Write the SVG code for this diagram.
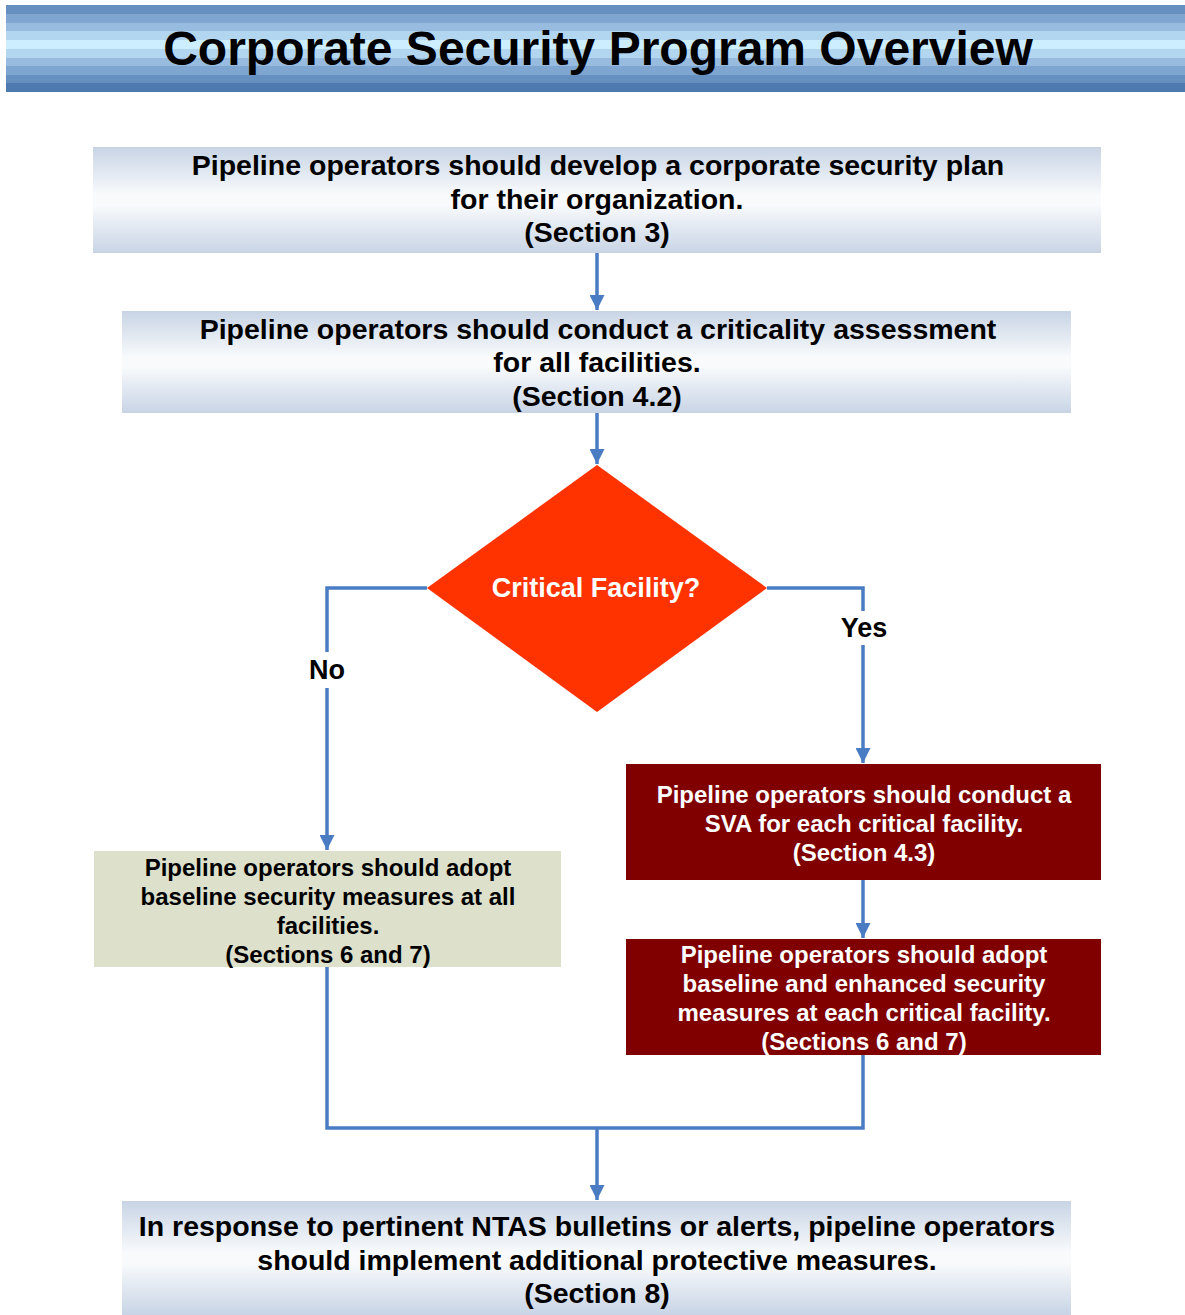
<svg xmlns="http://www.w3.org/2000/svg" width="1185" height="1315" viewBox="0 0 1185 1315">
<defs>
<linearGradient id="boxGrad" x1="0" y1="0" x2="0" y2="1">
<stop offset="0" stop-color="#C8D4E5"/>
<stop offset="0.45" stop-color="#F8FAFC"/>
<stop offset="0.55" stop-color="#F8FAFC"/>
<stop offset="1" stop-color="#C8D4E5"/>
</linearGradient>
<marker id="arr" viewBox="0 0 15 15" refX="15" refY="7.5" markerWidth="15" markerHeight="15" markerUnits="userSpaceOnUse" orient="auto">
<path d="M0,0 L15,7.5 L0,15 Z" fill="#4A7CC4"/>
</marker>
</defs>
<style>
.conn{fill:none;stroke:#4A7CC4;stroke-width:3.5}
.blue{fill:url(#boxGrad)}
.bt{font-family:"Liberation Sans",Arial,sans-serif;font-weight:bold;font-size:28.5px;fill:#000;text-anchor:middle}
.wt{font-family:"Liberation Sans",Arial,sans-serif;font-weight:bold;font-size:24px;fill:#fff;text-anchor:middle}
.kt{font-family:"Liberation Sans",Arial,sans-serif;font-weight:bold;font-size:24px;fill:#000;text-anchor:middle}
.lbl{font-family:"Liberation Sans",Arial,sans-serif;font-weight:bold;font-size:27px;fill:#000;text-anchor:middle}
</style>
<rect width="1185" height="1315" fill="#fff"/>
<g id="title">
<rect x="6" y="5" width="1179" height="9" fill="#6690C0"/>
<rect x="6" y="14" width="1179" height="9" fill="#7FA6D0"/>
<rect x="6" y="23" width="1179" height="8" fill="#98BCE0"/>
<rect x="6" y="31" width="1179" height="9" fill="#B3D6F0"/>
<rect x="6" y="40" width="1179" height="9" fill="#CCEEFF"/>
<rect x="6" y="49" width="1179" height="9" fill="#B3D6F0"/>
<rect x="6" y="58" width="1179" height="8" fill="#98BCE0"/>
<rect x="6" y="66" width="1179" height="9" fill="#7FA6D0"/>
<rect x="6" y="75" width="1179" height="8" fill="#6690C0"/>
<rect x="6" y="83" width="1179" height="9" fill="#4F7AB0"/>
<text x="598" y="65" font-family="'Liberation Sans',Arial,sans-serif" font-weight="bold" font-size="48" text-anchor="middle" fill="#000">Corporate Security Program Overview</text>
</g>
<g id="connectors">
<line class="conn" x1="597" y1="253" x2="597" y2="310" marker-end="url(#arr)"/>
<line class="conn" x1="597" y1="413" x2="597" y2="464" marker-end="url(#arr)"/>
<polyline class="conn" points="427,588 327,588 327,850" marker-end="url(#arr)"/>
<polyline class="conn" points="767,588 863,588 863,763" marker-end="url(#arr)"/>
<line class="conn" x1="863" y1="880" x2="863" y2="938" marker-end="url(#arr)"/>
<polyline class="conn" points="327,967 327,1128 863,1128 863,1055"/>
<line class="conn" x1="597" y1="1128" x2="597" y2="1200" marker-end="url(#arr)"/>
<rect x="303" y="652" width="48" height="36" fill="#fff"/>
<rect x="834" y="611" width="58" height="34" fill="#fff"/>
<text class="lbl" x="327" y="679">No</text>
<text class="lbl" x="864" y="637">Yes</text>
</g>
<g id="node-plan">
<rect class="blue" x="93" y="147" width="1008" height="106"/>
<text class="bt" x="598" y="175">Pipeline operators should develop a corporate security plan</text>
<text class="bt" x="597" y="209">for their organization.</text>
<text class="bt" x="597" y="242">(Section 3)</text>
</g>
<g id="node-criticality">
<rect class="blue" x="122" y="311" width="949" height="102"/>
<text class="bt" x="598" y="339">Pipeline operators should conduct a criticality assessment</text>
<text class="bt" x="597" y="372">for all facilities.</text>
<text class="bt" x="597" y="406">(Section 4.2)</text>
</g>
<g id="node-decision">
<polygon points="597,465 767,588 597,712 427,588" fill="#FF3300"/>
<text x="596" y="597" font-family="'Liberation Sans',Arial,sans-serif" font-weight="bold" font-size="27" text-anchor="middle" fill="#fff">Critical Facility?</text>
</g>
<g id="node-baseline">
<rect x="94" y="851" width="467" height="116" fill="#DDE1CB"/>
<text class="kt" x="328" y="876">Pipeline operators should adopt</text>
<text class="kt" x="328" y="905">baseline security measures at all</text>
<text class="kt" x="328" y="934">facilities.</text>
<text class="kt" x="328" y="963">(Sections 6 and 7)</text>
</g>
<g id="node-sva">
<rect x="626" y="764" width="475" height="116" fill="#800000"/>
<text class="wt" x="864" y="803">Pipeline operators should conduct a</text>
<text class="wt" x="864" y="832">SVA for each critical facility.</text>
<text class="wt" x="864" y="861">(Section 4.3)</text>
</g>
<g id="node-enhanced">
<rect x="626" y="939" width="475" height="116" fill="#800000"/>
<text class="wt" x="864" y="963">Pipeline operators should adopt</text>
<text class="wt" x="864" y="992">baseline and enhanced security</text>
<text class="wt" x="864" y="1021">measures at each critical facility.</text>
<text class="wt" x="864" y="1050">(Sections 6 and 7)</text>
</g>
<g id="node-ntas">
<rect class="blue" x="122" y="1201" width="949" height="114"/>
<text class="bt" x="597" y="1236">In response to pertinent NTAS bulletins or alerts, pipeline operators</text>
<text class="bt" x="597" y="1270">should implement additional protective measures.</text>
<text class="bt" x="597" y="1303">(Section 8)</text>
</g>
</svg>
